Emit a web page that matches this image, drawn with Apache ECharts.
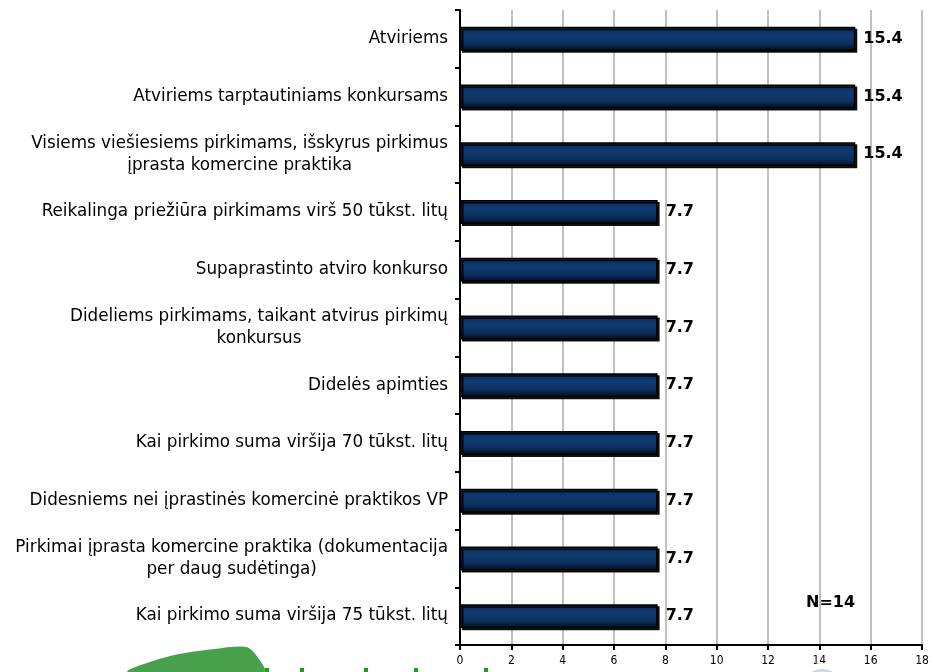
<!DOCTYPE html>
<html>
<head>
<meta charset="utf-8">
<script src="https://cdn.jsdelivr.net/npm/echarts@6/dist/echarts.min.js"></script>
<style>
html, body { margin: 0; padding: 0; background: #fff; }
#chart { width: 933px; height: 672px; }
</style>
</head>
<body>
<div id="chart"></div>
<script>
// duomenys
var categories = [
    'Atviriems',
    'Atviriems tarptautiniams konkursams',
    'Visiems viešiesiems pirkimams, išskyrus pirkimus\nįprasta komercine praktika',
    'Reikalinga priežiūra pirkimams virš 50 tūkst. litų',
    'Supaprastinto atviro konkurso',
    'Dideliems pirkimams, taikant atvirus pirkimų\nkonkursus',
    'Didelės apimties',
    'Kai pirkimo suma viršija 70 tūkst. litų',
    'Didesniems nei įprastinės komercinė praktikos VP',
    'Pirkimai įprasta komercine praktika (dokumentacija\nper daug sudėtinga)',
    'Kai pirkimo suma viršija 75 tūkst. litų'
];
var values = [15.4, 15.4, 15.4, 7.7, 7.7, 7.7, 7.7, 7.7, 7.7, 7.7, 7.7];
var sampleNote = 'N=14';

var chart = echarts.init(document.getElementById('chart'));

var labelFont = 'DejaVu Sans';

var option = {
    animation: false,
    grid: { left: 460, right: 11, top: 10, bottom: 27 },
    xAxis: {
        type: 'value',
        min: 0,
        max: 18,
        interval: 2,
        axisLine: { show: true, lineStyle: { color: '#000', width: 2 } },
        axisTick: { show: true, length: 5, lineStyle: { color: '#000', width: 2 } },
        axisLabel: { color: '#000', fontSize: 12, fontFamily: 'DejaVu Sans Condensed', margin: 10 },
        splitLine: { show: true, lineStyle: { color: '#c0c0c0', width: 2 } }
    },
    yAxis: {
        type: 'category',
        inverse: true,
        data: categories,
        axisLine: { show: true, lineStyle: { color: '#000', width: 2 } },
        axisTick: { show: true, length: 5, lineStyle: { color: '#000', width: 2 } },
        axisLabel: {
            color: '#000',
            fontSize: 16.8,
            fontFamily: labelFont,
            lineHeight: 22,
            align: 'right',
            margin: 12,
            // antra eilute centruojama po pirmaja
            formatter: function (v) {
                var parts = v.split('\n');
                if (parts.length < 2) return v;
                return parts[0] + '\n{c|' + parts[1] + '}';
            },
            rich: {
                c: { align: 'center', fontSize: 16.8, fontFamily: labelFont, color: '#000', lineHeight: 22 }
            }
        }
    },
    series: [{
        type: 'bar',
        data: values,
        barWidth: 24,
        itemStyle: {
            color: {
                type: 'linear', x: 0, y: 0, x2: 0, y2: 1,
                colorStops: [
                    { offset: 0, color: '#0a2a55' },
                    { offset: 0.35, color: '#0f3b72' },
                    { offset: 0.7, color: '#0c305e' },
                    { offset: 1, color: '#020a18' }
                ]
            },
            borderColor: '#000',
            borderWidth: 1.5,
            shadowColor: 'rgba(0,0,0,0.9)',
            shadowOffsetX: 2,
            shadowOffsetY: 2,
            shadowBlur: 0
        },
        label: {
            show: true,
            position: 'right',
            distance: 8,
            color: '#000',
            fontSize: 16,
            fontWeight: 'bold',
            fontFamily: 'DejaVu Sans',
            formatter: function (p) { return p.value.toFixed(1); }
        }
    }],
    graphic: [
        {
            type: 'text',
            left: 806,
            top: 595,
            style: { text: sampleNote, fontSize: 16, fontWeight: 'bold', fontFamily: 'DejaVu Sans', fill: '#000' }
        },
        // logotipo fragmentai apacioje
        {
            type: 'polygon',
            shape: {
                points: [[128, 672], [170, 656], [215, 649], [246, 647], [256, 655], [264, 672]],
                smooth: 0.3
            },
            style: { fill: '#47a14c' }
        },
        { type: 'rect', shape: { x: 265, y: 668, width: 4, height: 4 }, style: { fill: '#16a316' } },
        { type: 'rect', shape: { x: 300, y: 668, width: 4, height: 4 }, style: { fill: '#16a316' } },
        { type: 'rect', shape: { x: 364, y: 668, width: 4, height: 4 }, style: { fill: '#16a316' } },
        { type: 'rect', shape: { x: 414, y: 668, width: 4, height: 4 }, style: { fill: '#16a316' } },
        { type: 'rect', shape: { x: 484, y: 668, width: 4, height: 4 }, style: { fill: '#16a316' } },
        {
            type: 'circle',
            z: 100,
            shape: { cx: 822, cy: 690, r: 24 },
            style: {
                stroke: '#fff',
                lineWidth: 6,
                fill: {
                    type: 'radial', x: 0.5, y: 0.3, r: 0.7,
                    colorStops: [
                        { offset: 0, color: '#e4e8f2' },
                        { offset: 1, color: '#9aa3c0' }
                    ]
                }
            }
        }
    ]
};

chart.setOption(option);
</script>
</body>
</html>
